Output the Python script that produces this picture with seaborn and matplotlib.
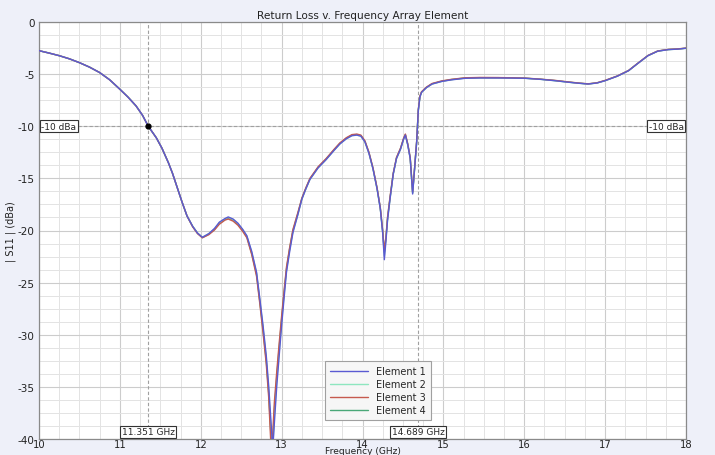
import matplotlib
matplotlib.use("Agg")
import matplotlib.pyplot as plt
import seaborn as sns
import pandas as pd
from matplotlib.ticker import MultipleLocator

freq = [10.0, 10.125, 10.25, 10.375, 10.5, 10.625, 10.75, 10.875, 11.0, 11.1,
        11.2, 11.28, 11.351, 11.45, 11.52, 11.6, 11.65, 11.71, 11.77, 11.83,
        11.9, 11.96, 12.02, 12.1, 12.17, 12.23, 12.3, 12.34, 12.4, 12.46,
        12.52, 12.57, 12.63, 12.69, 12.73, 12.77, 12.81, 12.84, 12.87, 12.89,
        12.91, 12.94, 12.97, 13.0, 13.03, 13.06, 13.1, 13.14, 13.2, 13.25,
        13.3, 13.35, 13.45, 13.55, 13.65, 13.72, 13.8, 13.87, 13.93, 13.98,
        14.03, 14.08, 14.13, 14.18, 14.22, 14.25, 14.27, 14.29, 14.31, 14.34,
        14.38, 14.42, 14.47, 14.51, 14.53, 14.56, 14.59, 14.62, 14.645, 14.67,
        14.69, 14.71, 14.73, 14.79, 14.86, 14.98, 15.1, 15.27, 15.45, 15.68,
        15.85, 16.01, 16.2, 16.38, 16.55, 16.68, 16.79, 16.9, 17.0, 17.15,
        17.29, 17.4, 17.53, 17.65, 17.78, 17.9, 18.0]

element1 = [-2.75, -2.98, -3.23, -3.53, -3.9, -4.33, -4.85, -5.55, -6.45, -7.2,
            -8.05, -8.95, -10.0, -11.1, -12.1, -13.5, -14.5, -15.9, -17.3, -18.6,
            -19.6, -20.25, -20.65, -20.3, -19.8, -19.2, -18.85, -18.7, -18.9, -19.3,
            -19.9, -20.5, -22.0, -24.0, -26.5, -29.1, -32.0, -34.9, -38.5, -41.0,
            -38.5, -34.9, -32.0, -29.1, -26.5, -24.0, -22.0, -20.2, -18.5, -17.0,
            -16.0, -15.1, -14.0, -13.2, -12.3, -11.7, -11.2, -10.9, -10.85, -10.95,
            -11.5, -12.6, -14.1, -16.0, -17.9, -20.3, -22.8, -21.0, -19.0, -17.0,
            -14.6, -13.1, -12.2, -11.2, -10.85, -11.8, -13.1, -16.5, -14.0, -11.5,
            -8.5, -7.2, -6.75, -6.3, -5.95, -5.7, -5.55, -5.4, -5.37, -5.37,
            -5.38, -5.4, -5.5, -5.63, -5.78, -5.88, -5.95, -5.85, -5.63, -5.2,
            -4.67, -4.0, -3.23, -2.8, -2.65, -2.6, -2.52]

element2 = [-2.75, -2.98, -3.23, -3.53, -3.9, -4.33, -4.85, -5.55, -6.45, -7.2,
            -8.05, -8.95, -10.0, -11.1, -12.1, -13.5, -14.5, -15.9, -17.3, -18.6,
            -19.6, -20.25, -20.65, -20.3, -19.85, -19.25, -18.9, -18.75, -18.95, -19.35,
            -19.95, -20.55, -22.1, -24.1, -26.7, -29.3, -32.3, -35.3, -39.3, -41.0,
            -37.8, -34.4, -31.6, -28.8, -26.2, -23.8, -21.8, -20.1, -18.5, -17.0,
            -16.0, -15.1, -14.0, -13.2, -12.3, -11.7, -11.2, -10.9, -10.85, -10.95,
            -11.5, -12.6, -14.1, -16.0, -17.9, -20.2, -22.4, -20.8, -18.9, -17.0,
            -14.6, -13.1, -12.2, -11.2, -10.85, -11.8, -13.1, -16.4, -14.0, -11.5,
            -8.5, -7.2, -6.75, -6.3, -5.95, -5.7, -5.53, -5.38, -5.35, -5.35,
            -5.37, -5.4, -5.5, -5.63, -5.78, -5.88, -5.95, -5.85, -5.63, -5.2,
            -4.67, -4.0, -3.23, -2.8, -2.65, -2.6, -2.52]

element3 = [-2.75, -2.98, -3.23, -3.53, -3.9, -4.33, -4.85, -5.55, -6.45, -7.2,
            -8.05, -8.95, -10.0, -11.1, -12.1, -13.5, -14.5, -15.9, -17.3, -18.6,
            -19.65, -20.3, -20.7, -20.4, -19.95, -19.4, -19.0, -18.9, -19.1, -19.5,
            -20.1, -20.7, -22.3, -24.4, -27.0, -29.8, -32.8, -36.0, -41.0, -39.5,
            -36.5, -33.5, -30.8, -28.2, -25.8, -23.5, -21.6, -19.9, -18.3, -16.9,
            -15.9, -15.0, -13.9, -13.1, -12.2, -11.6, -11.1, -10.8, -10.75, -10.85,
            -11.4, -12.5, -14.0, -15.9, -17.8, -20.0, -22.0, -20.6, -18.7, -16.8,
            -14.5, -13.0, -12.1, -11.1, -10.75, -11.7, -13.0, -16.3, -13.9, -11.4,
            -8.4, -7.1, -6.7, -6.25, -5.9, -5.65, -5.5, -5.35, -5.32, -5.33,
            -5.35, -5.38, -5.48, -5.6, -5.75, -5.86, -5.93, -5.83, -5.6, -5.18,
            -4.65, -3.98, -3.21, -2.78, -2.63, -2.58, -2.5]

element4 = [-2.75, -2.98, -3.23, -3.53, -3.9, -4.33, -4.85, -5.55, -6.45, -7.2,
            -8.05, -8.95, -10.0, -11.1, -12.1, -13.5, -14.5, -15.9, -17.3, -18.6,
            -19.6, -20.25, -20.68, -20.35, -19.9, -19.3, -18.95, -18.8, -19.0, -19.4,
            -20.0, -20.6, -22.2, -24.2, -26.8, -29.5, -32.5, -35.6, -40.0, -40.5,
            -37.2, -34.0, -31.2, -28.5, -26.0, -23.7, -21.7, -20.0, -18.4, -16.95,
            -15.95, -15.05, -13.95, -13.15, -12.25, -11.65, -11.15, -10.85, -10.8, -10.9,
            -11.45, -12.55, -14.05, -15.95, -17.85, -20.1, -22.1, -20.7, -18.8, -16.9,
            -14.55, -13.05, -12.15, -11.15, -10.8, -11.75, -13.05, -16.4, -13.95, -11.45,
            -8.45, -7.15, -6.72, -6.28, -5.93, -5.68, -5.52, -5.37, -5.34, -5.34,
            -5.36, -5.39, -5.49, -5.62, -5.77, -5.87, -5.94, -5.84, -5.62, -5.19,
            -4.66, -3.99, -3.22, -2.79, -2.64, -2.59, -2.51]

series_names = ["Element 1", "Element 2", "Element 3", "Element 4"]
series_values = [element1, element2, element3, element4]
series_colors = ["#5a5ad2", "#8ee6bf", "#c65a4e", "#4aa878"]

marker_freqs = [11.351, 14.689]
marker_labels = ["11.351 GHz", "14.689 GHz"]
ref_level = -10
ref_label = "-10 dBa"

sns.set_theme(style="white")
plt.rcParams["font.family"] = ["DejaVu Sans"]
plt.rcParams["axes.unicode_minus"] = False

fig = plt.figure(figsize=(7.15, 4.56), dpi=100, facecolor="#eef0f9")
ax = fig.add_axes([39 / 715, 1 - 440 / 456, (686 - 39) / 715, (440 - 23) / 456])
ax.set_facecolor("white")

zorders = [5, 3, 4, 2]
for name, vals, col, z in zip(series_names, series_values, series_colors, zorders):
    df = pd.DataFrame({"f": freq, "db": vals})
    sns.lineplot(data=df, x="f", y="db", ax=ax, color=col, lw=1.0, label=name,
                 zorder=z, sort=False, estimator=None)

ax.set_xlim(10, 18)
ax.set_ylim(-40, 0)
ax.set_xticks(range(10, 19))
ax.set_xticklabels([str(v) for v in range(10, 19)])
ax.set_yticks(range(-40, 1, 5))
ax.set_yticklabels([str(v) for v in range(-40, 1, 5)])
ax.xaxis.set_minor_locator(MultipleLocator(0.25))
ax.yaxis.set_minor_locator(MultipleLocator(1.25))
ax.tick_params(which="both", length=0)
ax.tick_params(which="major", labelsize=7.5, labelcolor="#222222")
ax.tick_params(axis="x", which="major", pad=0, labelsize=7.2)
ax.tick_params(axis="y", which="major", pad=3)
ax.grid(True, which="major", color="#cccccc", lw=0.8)
ax.grid(True, which="minor", color="#e3e3e3", lw=0.7)
ax.set_axisbelow(True)
for s in ax.spines.values():
    s.set_color("#8a8a8a")
    s.set_linewidth(0.9)

# reference lines and markers
ax.axhline(ref_level, color="#a0a0a0", lw=0.8, ls=(0, (3, 2)), zorder=1.5)
for mf in marker_freqs:
    ax.axvline(mf, color="#a0a0a0", lw=0.8, ls=(0, (3, 2)), zorder=1.5)
ax.plot([marker_freqs[0]], [ref_level], "o", color="black", ms=3.5, zorder=6)

box = dict(boxstyle="square,pad=0.15", fc="white", ec="#333333", lw=0.8)
ax.text(10.03, ref_level, ref_label, fontsize=6.5, va="center", ha="left", bbox=box, zorder=7)
ax.text(17.97, ref_level, ref_label, fontsize=6.5, va="center", ha="right", bbox=box, zorder=7)
for mf, lab in zip(marker_freqs, marker_labels):
    ax.text(mf, -39.3, lab, fontsize=6.5, va="center", ha="center", bbox=box, zorder=7)

ax.set_title("Return Loss v. Frequency Array Element", fontsize=7.6, pad=3, color="#222222")
ax.set_xlabel("Frequency (GHz)", fontsize=6.6, color="#222222", va="bottom")
ax.xaxis.set_label_coords(0.5, -15.9 / 417)
ax.set_ylabel("| S11 | (dBa)", fontsize=7, color="#222222")
ax.yaxis.set_label_coords(-0.036, 0.5)

leg = ax.legend(loc="lower left", bbox_to_anchor=(0.434, 0.034), fontsize=7, frameon=True,
                fancybox=False, edgecolor="#a0a0a0", framealpha=1, handlelength=4,
                borderpad=0.5, labelspacing=0.3)
leg.get_frame().set_linewidth(0.8)
leg.get_frame().set_facecolor("#f6f6f6")
leg.set_zorder(10)

fig.savefig("out.png", dpi=100, facecolor=fig.get_facecolor())
